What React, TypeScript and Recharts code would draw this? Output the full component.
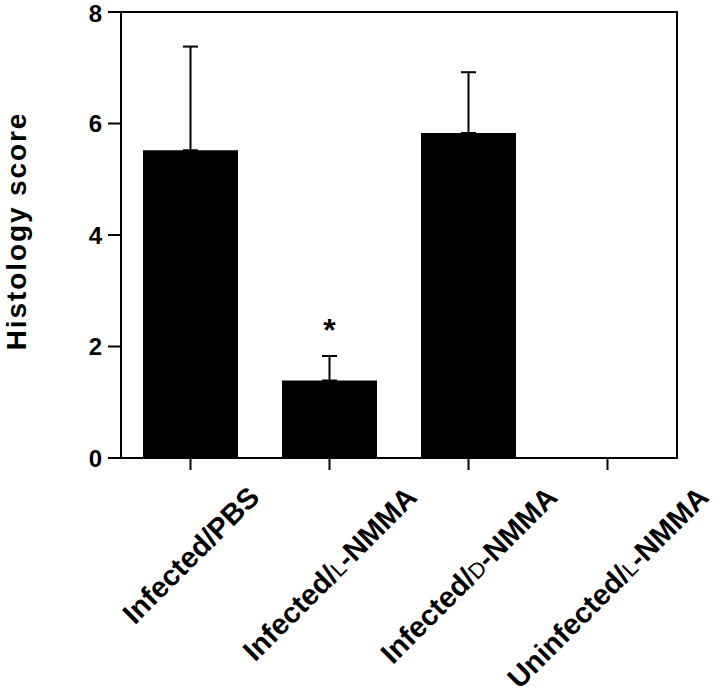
import { BarChart, Bar, XAxis, YAxis, ErrorBar, ReferenceDot, ReferenceArea } from 'recharts';

const groups = ['Infected/PBS', 'Infected/L-NMMA', 'Infected/D-NMMA', 'Uninfected/L-NMMA'];
const scores = [5.52, 1.39, 5.83, 0];
const errUp = [1.86, 0.44, 1.09, 0];
const yTicks = [0, 2, 4, 6, 8];
// significance mark above the L-NMMA bar
const starGroup = 'Infected/L-NMMA';
const starY = 2.43;

const data = groups.map((g, i) => ({ group: g, score: scores[i], err: [0, errUp[i]] }));

const FONT = "'Liberation Sans', Arial, Helvetica, sans-serif";
const LABEL_SIZE = 29;
const SMALL_SIZE = 22;

let ctx: CanvasRenderingContext2D | null = null;
function textWidth(text: string, font: string, size: number) {
  if (!ctx) ctx = document.createElement('canvas').getContext('2d');
  if (!ctx) return text.length * size * 0.6;
  ctx.font = font;
  return ctx.measureText(text).width;
}

// "Infected/L-NMMA" -> ["Infected/", "L", "-NMMA"] (L and D set as small caps)
function splitLabel(label: string): [string, string, string] {
  const cut = label.indexOf('/') + 1;
  const rest = label.slice(cut);
  if (/^[LD]-/.test(rest)) return [label.slice(0, cut), rest[0], rest.slice(1)];
  return [label, '', ''];
}

function GroupTick({ x, y, payload }: any) {
  const [head, small, tail] = splitLabel(String(payload.value));
  const len =
    textWidth(head + tail, `bold ${LABEL_SIZE}px ${FONT}`, LABEL_SIZE) +
    (small ? textWidth(small, `${SMALL_SIZE}px ${FONT}`, SMALL_SIZE) : 0);
  const capH = LABEL_SIZE * 0.72;
  const ax = x + (Math.SQRT1_2 * (len + capH)) / 2;
  const ay = y + 27;
  return (
    <text
      x={ax}
      y={ay}
      transform={`rotate(-45 ${ax} ${ay})`}
      textAnchor="end"
      fontFamily={FONT}
      fontSize={LABEL_SIZE}
      fontWeight="bold"
      fill="#000"
    >
      {head}
      {small ? (
        <tspan fontWeight="normal" fontSize={SMALL_SIZE}>
          {small}
        </tspan>
      ) : null}
      {tail}
    </text>
  );
}

function YTitle({ viewBox }: any) {
  const cx = 26;
  const cy = viewBox.y + viewBox.height / 2 - 4;
  return (
    <text
      x={cx}
      y={cy}
      transform={`rotate(-90 ${cx} ${cy})`}
      textAnchor="middle"
      fontFamily={FONT}
      fontSize={28}
      fontWeight="bold"
      letterSpacing={1.9}
      fill="#000"
    >
      Histology score
    </text>
  );
}

export default function App() {
  return (
    <div style={{ width: 720, height: 700, background: '#fff' }}>
      <style>{'body{margin:0}'}</style>
      <BarChart
        width={720}
        height={700}
        data={data}
        margin={{ top: 12, right: 43, left: 61, bottom: 0 }}
      >
        <XAxis
          dataKey="group"
          interval={0}
          height={242}
          axisLine={{ stroke: '#000', strokeWidth: 2 }}
          tickLine={{ stroke: '#000', strokeWidth: 2 }}
          tickSize={12}
          tick={<GroupTick />}
        />
        <YAxis
          domain={[0, 8]}
          ticks={yTicks}
          width={60}
          axisLine={{ stroke: '#000', strokeWidth: 2 }}
          tickLine={{ stroke: '#000', strokeWidth: 2 }}
          tickSize={13}
          tickMargin={6}
          tick={{ fill: '#000', fontSize: 24, fontWeight: 'bold', fontFamily: FONT }}
          label={<YTitle />}
        />
        <ReferenceArea
          x1={groups[0]}
          x2={groups[groups.length - 1]}
          y1={0}
          y2={8}
          fill="none"
          stroke="#000"
          strokeWidth={2}
          fillOpacity={0}
        />
        <Bar dataKey="score" fill="#000" barSize={95} isAnimationActive={false}>
          <ErrorBar
            dataKey="err"
            direction="y"
            width={7.5}
            stroke="#000"
            strokeWidth={2}
            isAnimationActive={false}
          />
        </Bar>
        <ReferenceDot
          x={starGroup}
          y={starY}
          r={0}
          shape={(p: any) => (
            <text
              x={p.cx}
              y={p.cy + 18}
              textAnchor="middle"
              fontFamily={FONT}
              fontSize={32}
              fontWeight="bold"
              fill="#000"
            >
              *
            </text>
          )}
        />
      </BarChart>
    </div>
  );
}
